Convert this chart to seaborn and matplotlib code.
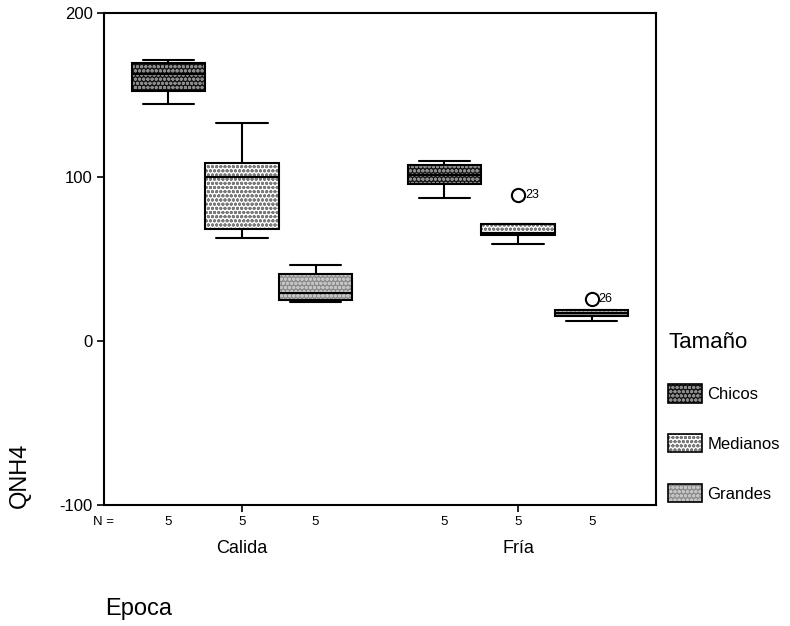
import numpy as np
import pandas as pd
import seaborn as sns
import matplotlib.pyplot as plt
from matplotlib.patches import Patch, PathPatch
from matplotlib.legend_handler import HandlerTuple
import matplotlib.colors as mcolors

# --- data -------------------------------------------------------------
epocas = ["Calida", "Fría"]
tamanos = ["Chicos", "Medianos", "Grandes"]

calida_chicos = [144.5, 152.5, 163.0, 169.5, 171.5]
calida_medianos = [63.0, 68.5, 100.0, 108.5, 133.0]
calida_grandes = [24.0, 25.0, 29.5, 41.0, 46.5]
fria_chicos = [87.5, 95.5, 101.0, 107.5, 109.5]
fria_medianos = [59.0, 64.5, 66.0, 71.5, 89.0]
fria_grandes = [12.5, 15.5, 17.0, 19.0, 25.5]

# case numbers of the flagged outliers
outlier_cases = {("Fría", "Medianos"): "23", ("Fría", "Grandes"): "26"}

groups = {
    ("Calida", "Chicos"): calida_chicos,
    ("Calida", "Medianos"): calida_medianos,
    ("Calida", "Grandes"): calida_grandes,
    ("Fría", "Chicos"): fria_chicos,
    ("Fría", "Medianos"): fria_medianos,
    ("Fría", "Grandes"): fria_grandes,
}
rows = [(e, t, v) for (e, t), vals in groups.items() for v in vals]
df = pd.DataFrame(rows, columns=["Epoca", "Tamaño", "QNH4"])

# fill colour and hatch colour for each size class
fills = {"Chicos": "#141414", "Medianos": "#ffffff", "Grandes": "#8a8a8a"}
hatch_cols = {"Chicos": "#8c8c8c", "Medianos": "#7a7a7a", "Grandes": "#c4c4c4"}
HATCH = "oooo"

# --- figure -----------------------------------------------------------
sns.set_style("ticks")
plt.rcParams["font.family"] = ["Liberation Sans", "DejaVu Sans"]
plt.rcParams["hatch.linewidth"] = 1.0
plt.rcParams["axes.unicode_minus"] = False
for key in ("text.color", "axes.labelcolor", "xtick.color", "ytick.color",
            "xtick.labelcolor", "ytick.labelcolor"):
    plt.rcParams[key] = "black"

fig, ax = plt.subplots(figsize=(7.9, 6.26), dpi=100)
fig.subplots_adjust(left=0.1316, right=0.8304, top=0.9792, bottom=0.1933)

sns.boxplot(
    data=df, x="Epoca", y="QNH4", hue="Tamaño",
    order=epocas, hue_order=tamanos, palette=fills,
    linecolor="black", linewidth=1.5, width=0.8, gap=0,
    fliersize=9.5,
    flierprops=dict(marker="o", markerfacecolor="none",
                    markeredgecolor="black", markeredgewidth=1.5),
    capwidths=0.185, legend=False, ax=ax,
)

# hatch the boxes and redraw a black outline on top
fill_rgba = {k: mcolors.to_rgba(c) for k, c in fills.items()}
box_centers = []
for p in list(ax.patches):
    fc = p.get_facecolor()
    hue = min(fill_rgba, key=lambda k: sum((a - b) ** 2 for a, b in zip(fill_rgba[k], fc)))
    p.set_hatch(HATCH)
    p.set_edgecolor(hatch_cols[hue])
    p.set_linewidth(0)
    ax.add_patch(PathPatch(p.get_path(), transform=p.get_transform(), fill=False,
                           edgecolor="black", linewidth=1.5, zorder=p.get_zorder() + 0.01))
    ext = p.get_path().get_extents()
    box_centers.append((ext.x0 + ext.x1) / 2)

# case labels next to outlier circles
for line in ax.lines:
    if line.get_marker() == "o" and len(line.get_xdata()) > 0:
        for x, y in zip(line.get_xdata(), line.get_ydata()):
            e = epocas[int(round(x))]
            for (ge, gt), lab in outlier_cases.items():
                if ge == e and y in groups[(ge, gt)]:
                    ax.annotate(lab, (x, y), xytext=(5, 0), textcoords="offset points",
                                ha="left", va="center", fontsize=9)

# axes styling
ax.set_ylim(-100, 200)
ax.set_yticks([-100, 0, 100, 200])
ax.set_xlim(-0.5, 1.5)
for s in ax.spines.values():
    s.set_visible(True)
    s.set_linewidth(1.5)
    s.set_color("black")
ax.tick_params(axis="y", length=5, width=1.2, labelsize=12, pad=3)
ax.tick_params(axis="x", length=5, width=1.2, labelsize=13, pad=20)

ax.set_xlabel("Epoca", fontsize=17)
ax.xaxis.set_label_coords(0.0625, -0.19)
ax.set_ylabel("QNH4", fontsize=17)
ax.yaxis.set_label_coords(-0.132, 0.06)

# N counts under each box
xt = ax.get_xaxis_transform()
ax.text(0.0, -0.035, "N =", transform=ax.transAxes, ha="center", va="center", fontsize=9.5)
counts = df.groupby(["Epoca", "Tamaño"]).size()
for cx in sorted(box_centers):
    e = epocas[int(round(cx))]
    off = cx - round(cx)
    t = tamanos[int(round(off / (0.8 / 3))) + 1]
    ax.text(cx, -0.035, str(counts[(e, t)]), transform=xt, ha="center", va="center", fontsize=9.5)

# legend
handles = [
    (Patch(facecolor=fills[t], edgecolor=hatch_cols[t], hatch=HATCH, linewidth=0),
     Patch(fill=False, edgecolor="black", linewidth=1.2))
    for t in tamanos
]
leg = fig.legend(handles, tamanos, title="Tamaño", loc="upper left",
                 bbox_to_anchor=(0.846, 0.47), frameon=False, fontsize=12,
                 title_fontsize=16, handlelength=2.0, handleheight=1.3,
                 handletextpad=0.35, labelspacing=1.9, borderpad=0,
                 borderaxespad=0,
                 handler_map={tuple: HandlerTuple(ndivide=1, pad=0)})
leg._legend_box.align = "left"

fig.savefig("out.png", dpi=100)
